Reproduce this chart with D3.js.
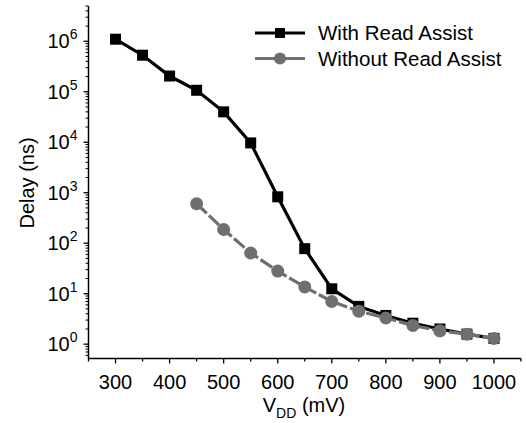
<!DOCTYPE html>
<html lang="en">
<head>
<meta charset="utf-8">
<title>Delay vs VDD</title>
<script src="https://d3js.org/d3.v7.min.js"></script>
<style>
  body { margin: 0; background: #fff; }
  text { font-family: "Liberation Sans", Arial, sans-serif; fill: #000; }
</style>
</head>
<body>
<div id="chart"></div>
<script>
// data
var vddWith = [300, 350, 400, 450, 500, 550, 600, 650, 700, 750, 800, 850, 900, 950, 1000];
var delayWith = [1.1e6, 5.3e5, 2.05e5, 1.07e5, 4.0e4, 9.7e3, 830, 78, 12.5, 5.6, 3.7, 2.6, 2.0, 1.58, 1.3];

var vddWithout = [450, 500, 550, 600, 650, 700, 750, 800, 850, 900, 950, 1000];
var delayWithout = [605, 187, 64, 28, 13.6, 7.0, 4.5, 3.3, 2.35, 1.84, 1.58, 1.3];

var xTicks = [300, 400, 500, 600, 700, 800, 900, 1000];
var yExps = [0, 1, 2, 3, 4, 5, 6];

var w = 526, h = 423;

var svg = d3.select("#chart").append("svg")
  .attr("width", w)
  .attr("height", h);

var x = d3.scaleLinear().domain([250, 1050]).range([88.5, 521]);
var y = d3.scaleLog().domain([0.52, 5e6]).range([358.5, 6]);

// x axis: major + minor ticks
var xMinor = d3.range(250, 1051, 50).filter(function(v) { return xTicks.indexOf(v) < 0; });
var gx = svg.append("g").attr("transform", "translate(0," + 358.5 + ")");
gx.append("line").attr("x1", x.range()[0]).attr("x2", x.range()[1])
  .attr("stroke", "#000").attr("stroke-width", 1.5);
gx.selectAll("line.maj").data(xTicks).enter().append("line")
  .attr("x1", function(d) { return x(d); }).attr("x2", function(d) { return x(d); })
  .attr("y1", 0).attr("y2", 5).attr("stroke", "#000").attr("stroke-width", 1.3);
gx.selectAll("line.min").data(xMinor).enter().append("line")
  .attr("x1", function(d) { return x(d); }).attr("x2", function(d) { return x(d); })
  .attr("y1", 0).attr("y2", 3).attr("stroke", "#000").attr("stroke-width", 1.3);
gx.selectAll("text").data(xTicks).enter().append("text")
  .attr("x", function(d) { return x(d); })
  .attr("y", 30)
  .attr("text-anchor", "middle")
  .attr("font-size", "20px")
  .text(function(d) { return d; });

// y axis
var yMinor = [];
for (var e = -1; e <= 6; e++) {
  for (var m = 2; m <= 9; m++) {
    var v = m * Math.pow(10, e);
    if (v >= y.domain()[0] && v <= y.domain()[1]) yMinor.push(v);
  }
}
var gy = svg.append("g").attr("transform", "translate(" + 88.5 + ",0)");
gy.append("line").attr("y1", y.range()[0]).attr("y2", y.range()[1])
  .attr("stroke", "#000").attr("stroke-width", 1.5);
gy.selectAll("line.maj").data(yExps).enter().append("line")
  .attr("y1", function(d) { return y(Math.pow(10, d)); })
  .attr("y2", function(d) { return y(Math.pow(10, d)); })
  .attr("x1", 0).attr("x2", -5).attr("stroke", "#000").attr("stroke-width", 1.3);
gy.selectAll("line.min").data(yMinor).enter().append("line")
  .attr("y1", function(d) { return y(d); })
  .attr("y2", function(d) { return y(d); })
  .attr("x1", 0).attr("x2", -3).attr("stroke", "#000").attr("stroke-width", 1);
var yl = gy.selectAll("text").data(yExps).enter().append("text")
  .attr("x", -11)
  .attr("y", function(d) { return y(Math.pow(10, d)) + 7; })
  .attr("text-anchor", "end")
  .attr("font-size", "20px");
yl.append("tspan").text("10");
yl.append("tspan").attr("dy", -9).attr("font-size", "14px").text(function(d) { return d; });

// axis titles
svg.append("text")
  .attr("transform", "translate(34," + 183 + ") rotate(-90)")
  .attr("text-anchor", "middle")
  .attr("font-size", "20px")
  .text("Delay (ns)");

var xt = svg.append("text")
  .attr("x", 304).attr("y", 412)
  .attr("text-anchor", "middle")
  .attr("font-size", "20px");
xt.append("tspan").text("V");
xt.append("tspan").attr("dy", 6).attr("font-size", "14px").text("DD");
xt.append("tspan").attr("dy", -6).text(" (mV)");

// series
var gray = "#6f6f6f";
var lineWith = d3.line()
  .x(function(d, i) { return x(vddWith[i]); })
  .y(function(d) { return y(d); });
var lineWithout = d3.line()
  .x(function(d, i) { return x(vddWithout[i]); })
  .y(function(d) { return y(d); });

svg.append("path").datum(delayWith)
  .attr("d", lineWith).attr("fill", "none")
  .attr("stroke", "#000").attr("stroke-width", 3.2);

svg.selectAll("rect.sq").data(delayWith).enter().append("rect")
  .attr("x", function(d, i) { return x(vddWith[i]) - 5.5; })
  .attr("y", function(d) { return y(d) - 5.5; })
  .attr("width", 11).attr("height", 11)
  .attr("fill", "#000");

svg.append("path").datum(delayWithout)
  .attr("d", lineWithout).attr("fill", "none")
  .attr("stroke", gray).attr("stroke-width", 3.2)
  .attr("stroke-dasharray", "14,3");

svg.selectAll("circle.ci").data(delayWithout).enter().append("circle")
  .attr("cx", function(d, i) { return x(vddWithout[i]); })
  .attr("cy", function(d) { return y(d); })
  .attr("r", 6.5)
  .attr("fill", gray);

// legend
var leg = svg.append("g");
leg.append("line").attr("x1", 255).attr("x2", 305).attr("y1", 33).attr("y2", 33)
  .attr("stroke", "#000").attr("stroke-width", 3.2);
leg.append("rect").attr("x", 275).attr("y", 28).attr("width", 10).attr("height", 10).attr("fill", "#000");
leg.append("text").attr("x", 318).attr("y", 40).attr("font-size", "20.5px").text("With Read Assist");
leg.append("line").attr("x1", 255).attr("x2", 305).attr("y1", 58.5).attr("y2", 58.5)
  .attr("stroke", gray).attr("stroke-width", 3.2);
leg.append("circle").attr("cx", 280).attr("cy", 58.5).attr("r", 6).attr("fill", gray);
leg.append("text").attr("x", 318).attr("y", 65.5).attr("font-size", "20.5px").text("Without Read Assist");
</script>
</body>
</html>
